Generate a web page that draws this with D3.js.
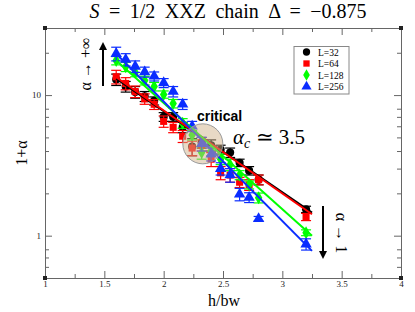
<head>
<meta charset="utf-8">
<script src="https://d3js.org/d3.v7.min.js"></script>
<style>
  body { margin: 0; background: #fff; }
  text { font-family: "Liberation Serif", "Times New Roman", serif; }
</style>
</head>
<body>
<svg id="chart" width="415" height="312"></svg>
<script>
// h/bw values shared by all sets
const hbw = [1.6, 1.68, 1.76, 1.84, 1.92, 2.0, 2.08, 2.16, 2.24, 2.32, 2.4, 2.48, 2.56, 2.64, 2.72, 2.8, 3.2];

const names = ["L=32", "L=64", "L=128", "L=256"];
const colors = ["#000000", "#ff0000", "#00ff00", "#0a2cff"];

// 1+alpha for each L
const val32  = [12.9, 11.5, 10.5, 9.8, 9.1, 7.0, 7.0, 5.9, 4.3, 4.6, 4.4, 4.1, 3.9, 3.3, 2.9, 2.5, 1.54];
const val64  = [13.5, 12.1, 10.6, 9.4, 8.6, 6.5, 5.9, 5.1, 4.2, 4.4, 3.5, 2.8, 2.7, 2.4, 2.3, 2.5, 1.36];
const val128 = [17.6, 15.9, 14.5, 12.7, 11.5, 10.1, 8.7, 6.3, 5.2, 3.9, 4.0, 3.5, 3.2, 2.7, 2.3, 1.86, 1.05];
const val256 = [19.7, 17.9, 16.0, 14.6, 13.6, 12.2, 10.6, 8.6, 6.0, 4.5, 3.8, 3.0, 2.7, 1.97, 1.87, 1.32, 0.87];

// error bars
const err32  = [1.2, 1.0, 1.0, 0.8, 0.6, 0.5, 0.5, 0.5, 0.6, 0.4, 0.4, 0.3, 0.3, 0.2, 0.2, 0.2, 0.08];
const err64  = [1.5, 1.2, 1.0, 0.8, 0.7, 0.6, 0.5, 0.5, 0.5, 0.4, 0.4, 0.3, 0.3, 0.2, 0.2, 0.2, 0.08];
const err128 = [1.2, 1.2, 1.0, 0.9, 0.8, 0.6, 0.6, 0.5, 0.4, 0.4, 0.3, 0.3, 0.3, 0.2, 0.15, 0.15, 0.05];
const err256 = [2.2, 1.8, 1.5, 1.2, 1.0, 0.9, 0.9, 0.7, 0.5, 0.5, 0.4, 0.3, 0.3, 0.2, 0.15, 0.05, 0.08];

// fitted lines, read at both ends
const fitX = [1.6, 3.25];
const fit32  = [13.1, 1.46];
const fit64  = [13.4, 1.42];
const fit128 = [17.6, 1.0];
const fit256 = [19.7, 0.78];

const xTicks = [1, 1.5, 2, 2.5, 3, 3.5, 4];
const xMinor = [1.25, 1.75, 2.25, 2.75, 3.25, 3.75];
const yTicks = [1, 10];
const yMinor = [0.6, 0.7, 0.8, 2, 3, 4, 5, 6, 7, 8, 20];

const values = [val32, val64, val128, val256];
const errs = [err32, err64, err128, err256];
const fits = [fit32, fit64, fit128, fit256];
const symbols = [d3.symbolCircle, d3.symbolSquare, d3.symbolDiamond, d3.symbolTriangle];
const symSize = [52, 50, 48, 56];

const svg = d3.select("#chart");
const margin = {top: 28, right: 14, bottom: 34, left: 45};
const W = 415, H = 312;

const x = d3.scaleLinear().domain([1, 4]).range([margin.left, W - margin.right]);
const y = d3.scaleLog().domain([0.5, 30]).range([H - margin.bottom, margin.top]);

const axisColor = "#666";

// axes, ticks inward on all four sides
function styleAxis(g) {
  g.select(".domain").attr("stroke", axisColor);
  g.selectAll(".tick line").attr("stroke", axisColor);
  g.selectAll(".tick text").attr("fill", "#222").style("font-size", "9px");
}

svg.append("g").attr("transform", `translate(0,${y.range()[0]})`)
  .call(d3.axisBottom(x).tickValues(xTicks).tickSizeInner(-7).tickSizeOuter(0).tickPadding(3).tickFormat(d3.format("")))
  .call(styleAxis);
svg.append("g").attr("transform", `translate(0,${y.range()[0]})`)
  .call(d3.axisBottom(x).tickValues(xMinor).tickSizeInner(-4).tickSizeOuter(0).tickFormat(""))
  .call(styleAxis);
svg.append("g").attr("transform", `translate(0,${margin.top})`)
  .call(d3.axisTop(x).tickValues(xTicks).tickSizeInner(-7).tickSizeOuter(0).tickFormat(""))
  .call(styleAxis);
svg.append("g").attr("transform", `translate(0,${margin.top})`)
  .call(d3.axisTop(x).tickValues(xMinor).tickSizeInner(-4).tickSizeOuter(0).tickFormat(""))
  .call(styleAxis);

svg.append("g").attr("transform", `translate(${margin.left},0)`)
  .call(d3.axisLeft(y).tickValues(yTicks).tickSizeInner(-7).tickSizeOuter(0).tickPadding(4).tickFormat(d3.format("")))
  .call(styleAxis);
svg.append("g").attr("transform", `translate(${margin.left},0)`)
  .call(d3.axisLeft(y).tickValues(yMinor).tickSizeInner(-4).tickSizeOuter(0).tickFormat(""))
  .call(styleAxis);
svg.append("g").attr("transform", `translate(${W - margin.right},0)`)
  .call(d3.axisRight(y).tickValues(yTicks).tickSizeInner(-7).tickSizeOuter(0).tickFormat(""))
  .call(styleAxis);
svg.append("g").attr("transform", `translate(${W - margin.right},0)`)
  .call(d3.axisRight(y).tickValues(yMinor).tickSizeInner(-4).tickSizeOuter(0).tickFormat(""))
  .call(styleAxis);

// small corner squares like grace draws
[[x.range()[0], y.range()[0]], [x.range()[1], y.range()[0]], [x.range()[0], y.range()[1]], [x.range()[1], y.range()[1]]]
  .forEach(c => svg.append("rect").attr("x", c[0] - 2).attr("y", c[1] - 2).attr("width", 4).attr("height", 4).attr("fill", "#222"));

// data sets
values.forEach((vals, s) => {
  const g = svg.append("g");
  const pts = hbw.map((h, i) => ({h: h, v: vals[i], e: errs[s][i]}));
  const eb = g.selectAll(".eb").data(pts).enter().append("g").attr("stroke", colors[s]).attr("stroke-width", 1.2);
  eb.append("line").attr("x1", d => x(d.h)).attr("x2", d => x(d.h))
    .attr("y1", d => y(d.v + d.e)).attr("y2", d => y(Math.max(d.v - d.e, 0.51)));
  eb.append("line").attr("x1", d => x(d.h) - 5).attr("x2", d => x(d.h) + 5)
    .attr("y1", d => y(d.v + d.e)).attr("y2", d => y(d.v + d.e));
  eb.append("line").attr("x1", d => x(d.h) - 5).attr("x2", d => x(d.h) + 5)
    .attr("y1", d => y(d.v - d.e)).attr("y2", d => y(d.v - d.e));
  g.selectAll(".pt").data(pts).enter().append("path")
    .attr("d", d3.symbol().type(symbols[s]).size(symSize[s]))
    .attr("transform", d => `translate(${x(d.h)},${y(d.v)})`)
    .attr("fill", colors[s]);
});

// fit lines
const line = d3.line().x(d => x(d[0])).y(d => y(d[1]));
fits.forEach((f, s) => {
  svg.append("path").attr("d", line(fitX.map((h, i) => [h, f[i]])))
    .attr("stroke", colors[s]).attr("stroke-width", 2).attr("fill", "none");
});

// critical region
svg.append("circle").attr("cx", x(2.33)).attr("cy", y(4.5)).attr("r", 20)
  .attr("fill", "rgb(210,180,140)").attr("fill-opacity", 0.5)
  .attr("stroke", "#999").attr("stroke-width", 1);

svg.append("text").attr("x", 197).attr("y", 121)
  .style("font-family", "'Liberation Sans', Arial, sans-serif").style("font-weight", "bold").style("font-size", "14px")
  .text("critical");

const ac = svg.append("text").attr("x", 233).attr("y", 144).style("font-size", "21px");
ac.append("tspan").style("font-style", "italic").text("α");
ac.append("tspan").attr("dy", 4).style("font-size", "14px").style("font-style", "italic").text("c");
ac.append("tspan").attr("dy", -4).text(" ≃ 3.5");

// arrows
svg.append("defs").append("marker").attr("id", "head").attr("viewBox", "0 0 10 10")
  .attr("refX", 5).attr("refY", 5).attr("markerWidth", 4).attr("markerHeight", 5).attr("orient", "auto")
  .append("path").attr("d", "M0,0 L10,5 L0,10 z").attr("fill", "#000");

svg.append("line").attr("x1", 103).attr("y1", 86).attr("x2", 103).attr("y2", 46)
  .attr("stroke", "#000").attr("stroke-width", 2).attr("marker-end", "url(#head)");
svg.append("line").attr("x1", 323).attr("y1", 206).attr("x2", 323).attr("y2", 255)
  .attr("stroke", "#000").attr("stroke-width", 2).attr("marker-end", "url(#head)");

svg.append("text").attr("transform", "translate(91,64) rotate(-90)").attr("text-anchor", "middle")
  .style("font-size", "16px").text("α → +∞");
svg.append("text").attr("transform", "translate(336,233) rotate(90)").attr("text-anchor", "middle")
  .style("font-size", "16px").text("α → 1");

// legend
const lg = svg.append("g");
lg.append("rect").attr("x", 294).attr("y", 46.5).attr("width", 55).attr("height", 47.5)
  .attr("fill", "#fff").attr("stroke", "#888");
names.forEach((n, s) => {
  const yy = 52 + s * 11.5;
  lg.append("path").attr("d", d3.symbol().type(symbols[s]).size(symSize[s] * 0.8))
    .attr("transform", `translate(306.5,${yy})`).attr("fill", colors[s]);
  lg.append("text").attr("x", 318).attr("y", yy + 3.5).style("font-size", "9.5px").text(n);
});

// titles
svg.append("text").attr("x", 228).attr("y", 18).attr("text-anchor", "middle")
  .style("font-size", "20px").style("word-spacing", "4.5px")
  .html('<tspan font-style="italic">S</tspan> = 1/2 XXZ chain Δ = −0.875');
svg.append("text").attr("x", 224).attr("y", 306).attr("text-anchor", "middle").style("font-size", "16px").text("h/bw");
svg.append("text").attr("transform", "translate(27,153) rotate(-90)").attr("text-anchor", "middle")
  .style("font-size", "16px").text("1+α");
</script>
</body>
